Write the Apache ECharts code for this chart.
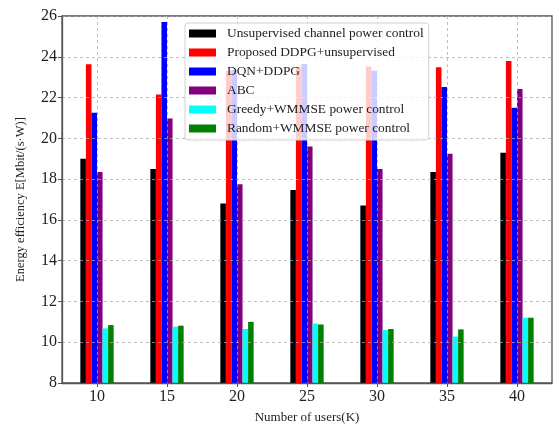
<!DOCTYPE html>
<html><head><meta charset="utf-8">
<script src="https://cdn.jsdelivr.net/npm/echarts@6/dist/echarts.min.js"></script>
<style>html,body{margin:0;padding:0;background:#fff}#c{width:559px;height:429px}</style>
</head><body><div id="c"></div>
<script>
const categories = ['10','15','20','25','30','35','40'];
const unsupervised = [19.0, 18.5, 16.8, 17.47, 16.7, 18.35, 19.29];
const proposed = [23.63, 22.15, 23.3, 23.5, 23.52, 23.49, 23.79];
const dqn = [21.26, 25.7, 23.35, 23.65, 23.32, 22.52, 21.5];
const abc = [18.35, 20.97, 17.75, 19.6, 18.5, 19.24, 22.42];
const greedy = [10.68, 10.76, 10.65, 10.92, 10.6, 10.28, 11.2];
const randomW = [10.84, 10.81, 11.0, 10.87, 10.65, 10.63, 11.2];
const seriesNames = ['Unsupervised channel power control','Proposed DDPG+unsupervised','DQN+DDPG','ABC','Greedy+WMMSE power control','Random+WMMSE power control'];
const seriesData = [unsupervised, proposed, dqn, abc, greedy, randomW];
const colors = ['#000000','#ff0000','#0000ff','#800080','#00ffff','#008000'];

const font = 'Liberation Serif, Times New Roman, serif';
const chart = echarts.init(document.getElementById('c'), null, {renderer:'canvas'});
const gridLine = {show:true, lineStyle:{color:'rgba(170,170,170,0.75)', type:[3,3], width:1}};
chart.setOption({
  animation:false,
  color: colors,
  grid:{left:62, right:7, top:16, bottom:42, show:true, borderColor:'#555', borderWidth:1.3, backgroundColor:'transparent'},
  legend:{
    data: seriesNames, orient:'vertical', left:185, top:23,
    itemWidth:27, itemHeight:8, itemGap:6,
    padding:[4,5,5,4],
    backgroundColor:'rgba(255,255,255,0.8)', borderColor:'#d0d0d0', borderWidth:1, borderRadius:3,
    textStyle:{fontFamily:font, fontSize:13.4, color:'#222', lineHeight:13, padding:[0,0,0,6]},
    icon:'rect', z:10
  },
  xAxis:{
    type:'category', data:categories, z:3,
    name:'Number of users(K)', nameLocation:'middle', nameGap:28,
    nameTextStyle:{fontFamily:font, fontSize:13, color:'#222'},
    axisLine:{show:true, lineStyle:{color:'#555', width:1.3}},
    axisTick:{show:true, alignWithLabel:true, inside:false, length:4, lineStyle:{color:'#555'}},
    axisLabel:{fontFamily:font, fontSize:16, color:'#222', margin:6},
    splitLine:Object.assign({alignWithLabel:true}, gridLine)
  },
  yAxis:{
    type:'value', min:8, max:26, interval:2, z:3,
    name:'Energy efficiency E[Mbit/(s\u00b7W)]', nameLocation:'middle', nameGap:35,
    nameTextStyle:{fontFamily:font, fontSize:12.5, color:'#222'},
    axisLine:{show:true, lineStyle:{color:'#555', width:1.3}},
    axisTick:{show:true, length:4, lineStyle:{color:'#555'}},
    axisLabel:{fontFamily:font, fontSize:16, color:'#222', margin:5},
    splitLine:gridLine
  },
  series: seriesNames.map((n,i)=>({
    name:n, type:'bar', data:seriesData[i], barWidth:5.55, barGap:'0%',
    itemStyle:{color:colors[i]}, z:2
  }))
});
</script></body></html>
